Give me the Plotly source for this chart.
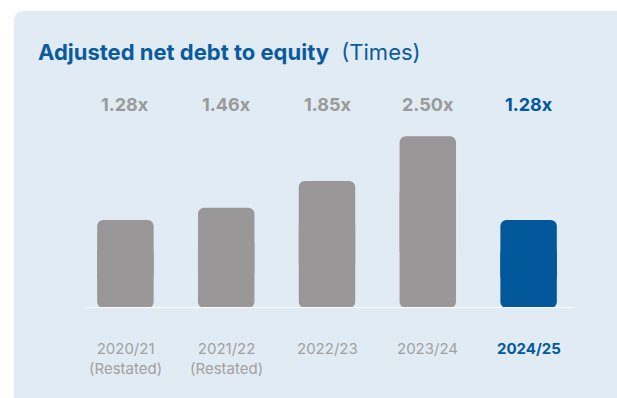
import plotly.graph_objects as go

categories = ["2020/21", "2021/22", "2022/23", "2023/24", "2024/25"]
sublabels = ["(Restated)", "(Restated)", "", "", ""]
values = [1.28, 1.46, 1.85, 2.50, 1.28]
value_labels = ["1.28x", "1.46x", "1.85x", "2.50x", "1.28x"]
highlight = [False, False, False, False, True]

GRAY_BAR = "#999797"
BLUE = "#02589b"
TITLE_BLUE = "#0b5a9e"
GRAY_TXT = "#a2a1a1"
GRAY_VAL = "#9b9a9a"
PANEL = "#e0ebf4"
FONT = "Inter"

W, H = 617, 398
L, R, T, B = 75, 38, 102, 90

bar_colors = [BLUE if h else GRAY_BAR for h in highlight]
x_idx = list(range(len(categories)))

fig = go.Figure()
# lower part (rounded bottom corners)
fig.add_trace(go.Bar(
    x=x_idx, y=[-v * 0.7 for v in values], base=[v * 0.7 for v in values],
    marker=dict(color=bar_colors, line=dict(width=0), cornerradius=6),
    width=0.56, hoverinfo="skip", showlegend=False))
# upper part (rounded top corners)
fig.add_trace(go.Bar(
    x=x_idx, y=[v * 0.7 for v in values], base=[v * 0.3 for v in values],
    marker=dict(color=bar_colors, line=dict(width=0), cornerradius=6),
    width=0.56, hoverinfo="skip", showlegend=False))

annotations = []
for i, (lab, h) in enumerate(zip(value_labels, highlight)):
    annotations.append(dict(
        x=i, y=0.99, xref="x", yref="paper", text=f"<b>{lab}</b>",
        showarrow=False, yanchor="middle", xanchor="center",
        font=dict(family=FONT, size=18, color=BLUE if h else GRAY_VAL)))

for i, (c, s, h) in enumerate(zip(categories, sublabels, highlight)):
    txt = f"<b>{c}</b>" if h else c
    if s:
        txt += "<br>" + s
    annotations.append(dict(
        x=i, y=-(337 - (H - B)) / (H - T - B), xref="x", yref="paper", text=txt,
        showarrow=False, yanchor="top", xanchor="center", align="center",
        font=dict(family=FONT, size=15, color=BLUE if h else GRAY_TXT)))

annotations.append(dict(
    x=(36 - L) / (W - L - R), y=1 + (T - 52) / (H - T - B), xref="paper", yref="paper",
    text="<b>Adjusted net debt to equity</b>  (Times)", showarrow=False,
    xanchor="left", yanchor="middle",
    font=dict(family=FONT, size=22, color=TITLE_BLUE)))

# panel background (rounded top-left corner), in paper coords
def px(xp):
    return (xp - L) / (W - L - R)

def py(yp):
    return (H - B - yp) / (H - T - B)

x0, y0, r = 14, 11, 11
panel_path = (f"M {px(x0)},{py(H + 20)} L {px(x0)},{py(y0 + r)} "
              f"Q {px(x0)},{py(y0)} {px(x0 + r)},{py(y0)} "
              f"L {px(W + 20)},{py(y0)} L {px(W + 20)},{py(H + 20)} Z")

shapes = [
    dict(type="path", path=panel_path, xref="paper", yref="paper",
         fillcolor=PANEL, line=dict(width=0), layer="below"),
    dict(type="line", xref="paper", yref="y", x0=px(86), x1=px(573), y0=0, y1=0,
         line=dict(color="white", width=2), layer="above"),
]

fig.update_layout(
    width=W, height=H,
    margin=dict(l=L, r=R, t=T, b=B),
    paper_bgcolor="white", plot_bgcolor="rgba(0,0,0,0)",
    barmode="overlay", bargap=0.44,
    xaxis=dict(range=[-0.5, 4.5], showticklabels=False, showgrid=False,
               zeroline=False, showline=False, fixedrange=True),
    yaxis=dict(range=[0, 3.0], showticklabels=False, showgrid=False,
               zeroline=False, showline=False, fixedrange=True),
    annotations=annotations, shapes=shapes,
    font=dict(family=FONT),
)

fig.write_html("out.html", config={"displayModeBar": False})
